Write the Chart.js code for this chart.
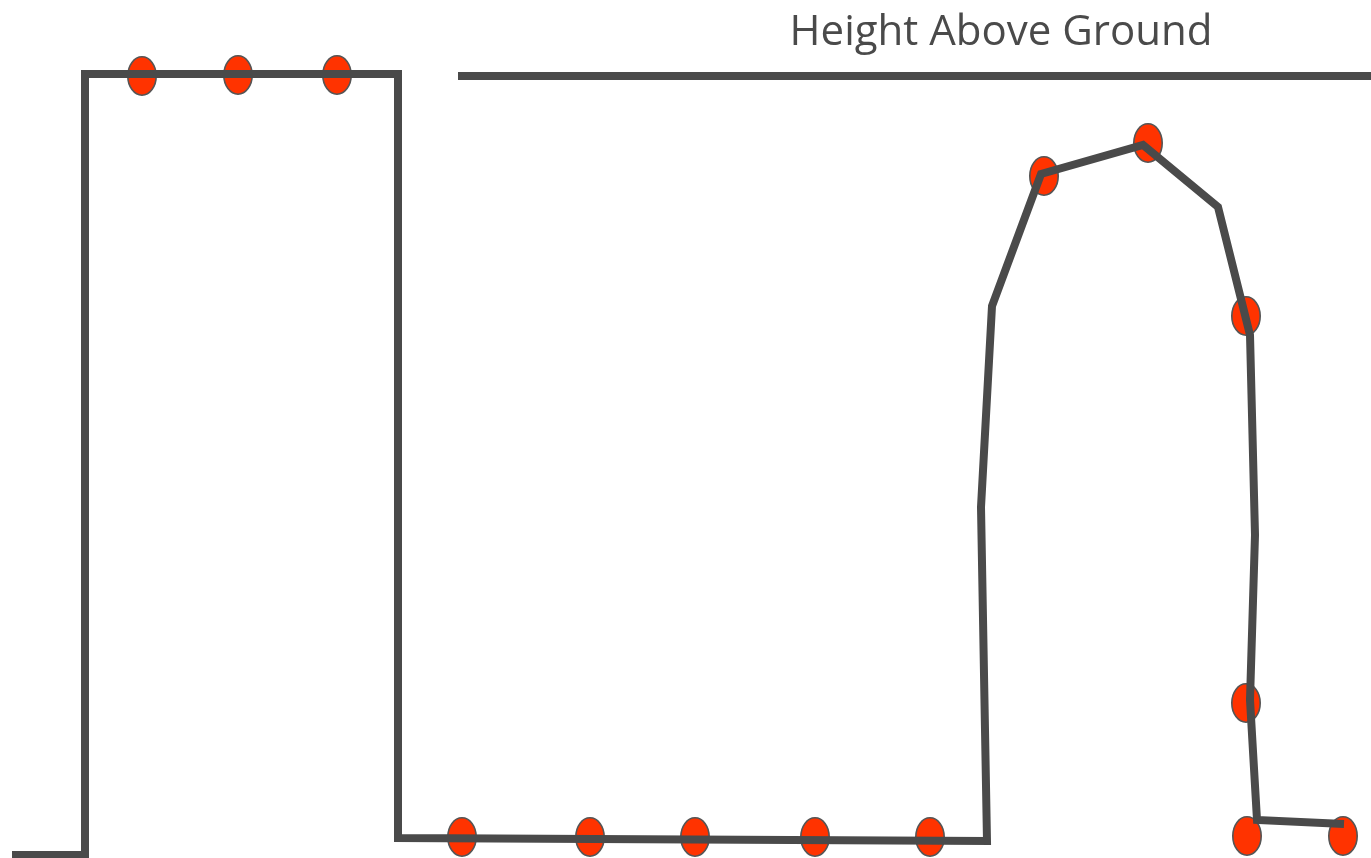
<!DOCTYPE html>
<html>
<head>
<meta charset="utf-8">
<title>Height Above Ground</title>
<script src="https://cdn.jsdelivr.net/npm/chart.js@4/dist/chart.umd.min.js"></script>
<style>
  html, body { margin: 0; padding: 0; background: #fff; }
  #wrap { width: 1371px; height: 858px; position: relative; }
</style>
</head>
<body>
<div id="wrap"><canvas id="heightChart"></canvas></div>
<script>
// title text
var chartTitle = "Height Above Ground";

// path of the trace (distance along, height above ground)
var pathX = [12, 85, 85, 398, 398, 987, 981, 992, 1041, 1143, 1218, 1250, 1255, 1250, 1257, 1344];
var pathY = [3, 3, 784, 784, 20, 17, 351, 552, 684, 713, 651, 523, 323, 158, 38, 34];

// sampled points
var dotX = [142, 238, 337, 462, 590, 695, 815, 930, 1044, 1148, 1246, 1246, 1247, 1343];
var dotY = [782, 783, 783, 21, 21, 21, 21, 21, 682, 715, 542, 155, 22, 22];

// ground reference line
var refX = [458, 1371];
var refY = [782, 782];

var lineColor = "#4a4a4a";

function toPoints(xs, ys) {
    var pts = [];
    for (var i = 0; i < xs.length; i++) {
        pts.push({x: xs[i], y: ys[i]});
    }
    return pts;
}

// oval marker
var dot = document.createElement("canvas");
dot.width = 34;
dot.height = 44;
var dctx = dot.getContext("2d");
dctx.beginPath();
dctx.ellipse(17, 22, 14.2, 19.2, 0, 0, Math.PI * 2);
dctx.fillStyle = "#ff3300";
dctx.fill();
dctx.lineWidth = 1.6;
dctx.strokeStyle = "#555555";
dctx.stroke();

var titlePlugin = {
    id: "titleText",
    afterDraw: function(chart) {
        var c = chart.ctx;
        c.save();
        c.font = "42px 'Open Sans'";
        c.fillStyle = lineColor;
        c.textAlign = "center";
        c.textBaseline = "alphabetic";
        c.fillText(chartTitle, 1001, 45);
        c.restore();
    }
};

var ctx = document.getElementById("heightChart");

var chart = new Chart(ctx, {
    type: "scatter",
    data: {
        datasets: [
            {
                label: "Path",
                data: toPoints(pathX, pathY),
                showLine: true,
                borderColor: lineColor,
                borderWidth: 8,
                borderJoinStyle: "miter",
                borderCapStyle: "butt",
                pointRadius: 0,
                fill: false,
                tension: 0,
                clip: false,
                order: 0
            },
            {
                label: "Ground",
                data: toPoints(refX, refY),
                showLine: true,
                borderColor: lineColor,
                borderWidth: 8,
                pointRadius: 0,
                fill: false,
                clip: false,
                order: 0
            },
            {
                label: "Samples",
                data: toPoints(dotX, dotY),
                showLine: false,
                pointStyle: dot,
                pointRadius: 16,
                clip: false,
                order: 1
            }
        ]
    },
    options: {
        responsive: true,
        maintainAspectRatio: false,
        animation: false,
        layout: { padding: 0, autoPadding: false },
        plugins: {
            legend: { display: false },
            tooltip: { enabled: false },
            title: { display: false }
        },
        scales: {
            x: { type: "linear", min: 0, max: 1371, display: false },
            y: { type: "linear", min: 0, max: 858, display: false }
        }
    },
    plugins: [titlePlugin]
});
</script>
</body>
</html>
